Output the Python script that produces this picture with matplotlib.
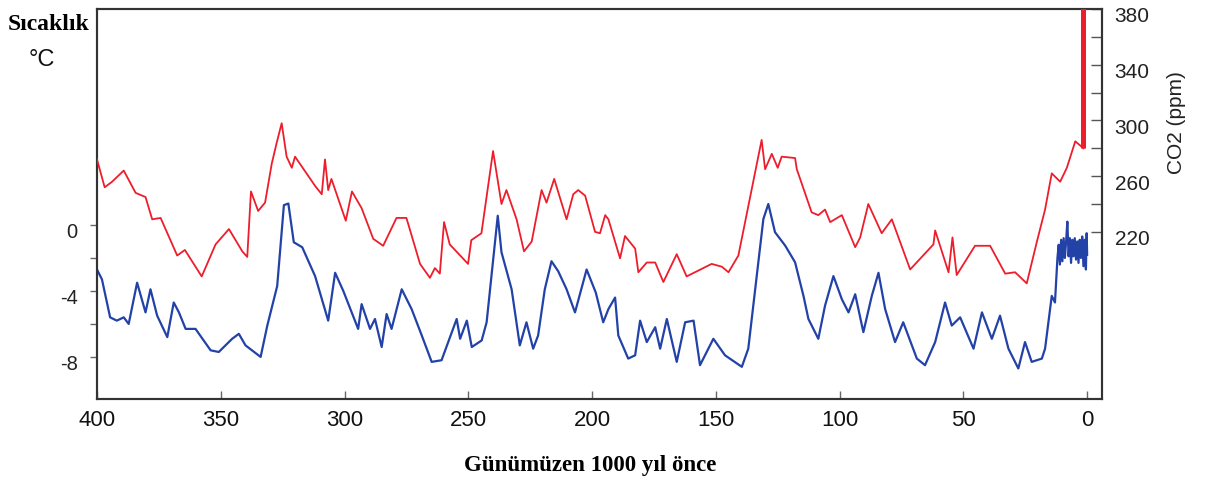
import matplotlib
matplotlib.use("Agg")
import matplotlib.pyplot as plt
import matplotlib.transforms as mtransforms

plt.rcParams['font.family'] = ['Liberation Sans', 'DejaVu Sans']

# ---- data (age in thousand years before present) ----
co2_age = [400, 396.9, 393.9, 389.2, 384.4, 380.4, 377.7, 374.3, 367.6, 364.5,
           357.7, 352.1, 346.7, 341.3, 339.3, 337.8, 334.9, 332.1, 329.4, 327.4,
           325.4, 323.4, 321.3, 320, 311.9, 309.2, 307.9, 306.6, 305.3, 299.5,
           297, 293.1, 288.4, 284.4, 279, 275, 269.5, 265.5, 263.5, 261.5,
           259.8, 257.5, 250.1, 248.8, 244.7, 240, 236.6, 234.6, 230.5, 227.5,
           224.4, 220.4, 218.4, 215.3, 210.3, 207.6, 205.6, 202.8, 198.8, 196.8,
           194.7, 193.4, 188.7, 186.7, 182.6, 181.3, 177.9, 174.5, 171.2, 165.8,
           161.8, 151.7, 147.6, 144.9, 140.9, 131.5, 130.1, 127.4, 125, 123.4,
           118, 117.3, 111.3, 108.6, 105.9, 103.8, 99.1, 93.7, 91.7, 88.4,
           83, 78.9, 71.5, 62.1, 61.4, 56, 54.4, 52.7, 45.3, 39.2,
           33.1, 29.1, 24.4, 20.3, 17, 14.3, 10.9, 8.2, 4.8, 1.5]
co2_ppm = [272, 252, 256, 264, 248, 245, 229, 230, 203, 207,
           188, 211, 222, 206, 202, 249, 235, 241, 269, 284,
           298, 274, 266, 274, 253, 247, 272, 250, 258, 228,
           249, 237, 215, 210, 230, 230, 197, 187, 194, 190,
           227, 211, 197, 214, 219, 278, 240, 250, 229, 206,
           213, 250, 241, 258, 229, 247, 250, 246, 220, 219,
           232, 229, 201, 217, 208, 191, 198, 198, 184, 204,
           188, 197, 195, 191, 203, 286, 265, 276, 266, 274,
           273, 265, 234, 232, 236, 227, 232, 209, 216, 240,
           219, 229, 193, 211, 221, 191, 216, 189, 210, 210,
           190, 191, 183, 213, 236, 262, 256, 266, 285, 280]
co2_recent_age = [1.5, 1.5]
co2_recent_ppm = [280, 390]

temp_age = [400, 398, 394.7, 392, 389.2, 387.2, 383.8, 380.4, 378.4, 375.7,
            371.6, 369, 366.9, 364.2, 360.2, 354.1, 350.8, 345.4, 342.7, 340,
            333.9, 331.2, 327.2, 324.5, 322.7, 320.5, 317.1, 311.9, 306.6, 303.8,
            300.5, 297.1, 294.5, 293.1, 289.7, 287.7, 285, 283, 281, 276.9,
            272.9, 268.8, 264.8, 260.8, 254.7, 253.3, 250.6, 248.6, 244.6, 242.6,
            238.1, 236.6, 232.5, 229.2, 226.5, 223.8, 221.8, 219.1, 216.4, 213.7,
            210.3, 206.9, 202.2, 198.5, 195.5, 193.4, 190.7, 189.4, 185.4, 182.6,
            180.6, 177.9, 174.5, 172.5, 169.8, 165.8, 162.4, 159, 156.4, 151,
            146.3, 139.5, 136.9, 134.1, 130.8, 128.8, 126.1, 122, 118, 114.6,
            112.6, 108.6, 105.9, 102.5, 99.1, 96.4, 93.7, 90.4, 87, 84.3,
            81.6, 77.6, 74.3, 68.8, 65.5, 61.4, 57.4, 54.7, 51.3, 45.9,
            42.5, 38.5, 35.2, 31.8, 27.8, 25.1, 22.4, 18.3, 17, 14.3,
            13, 12, 11.5, 11, 10.5, 10, 9.5, 9, 8.5, 8,
            7.5, 7, 6.5, 6, 5.5, 5, 4.5, 4, 3.5, 3,
            2.5, 2, 1.5, 1, 0.5, 0.2, 0]
temp_c = [-2.7, -3.3, -5.6, -5.8, -5.6, -6.0, -3.5, -5.3, -3.9, -5.5,
          -6.8, -4.7, -5.3, -6.3, -6.3, -7.6, -7.7, -6.9, -6.6, -7.3,
          -8.0, -6.1, -3.7, 1.2, 1.3, -1.05, -1.35, -3.1, -5.8, -2.9,
          -4.0, -5.3, -6.3, -4.8, -6.3, -5.7, -7.4, -5.4, -6.3, -3.9,
          -5.1, -6.7, -8.3, -8.2, -5.7, -6.9, -5.8, -7.4, -7.0, -5.9,
          0.56, -1.65, -3.9, -7.3, -5.9, -7.5, -6.7, -3.9, -2.2, -2.8,
          -3.9, -5.3, -2.7, -4.1, -5.9, -5.1, -4.4, -6.7, -8.1, -7.9,
          -5.8, -7.1, -6.2, -7.5, -5.7, -8.3, -5.9, -5.8, -8.5, -6.9,
          -7.9, -8.6, -7.5, -3.9, 0.36, 1.27, -0.44, -1.25, -2.26, -4.3,
          -5.7, -6.9, -4.9, -3.1, -4.5, -5.3, -4.2, -6.5, -4.3, -2.9,
          -5.1, -7.1, -5.9, -8.1, -8.5, -7.1, -4.7, -6.1, -5.6, -7.5,
          -5.3, -6.9, -5.5, -7.5, -8.7, -7.1, -8.3, -8.1, -7.5, -4.3,
          -4.7, -2.0, -1.2, -2.4, -0.9, -2.2, -0.8, -2.0, -1.0, 0.2,
          -1.9, -0.8, -2.3, -0.9, -1.9, -0.8, -2.1, -1.0, -2.3, -0.9,
          -2.0, -0.7, -2.5, -0.9, -2.7, -0.5, -1.8]

x_ticks = [400, 350, 300, 250, 200, 150, 100, 50, 0]
t_ticks = [0, -2, -4, -6, -8]
t_labels = ["0", "", "-4", "", "-8"]
co2_ticks = [220, 240, 260, 280, 300, 320, 340, 360, 380]
co2_labels = ["220", "", "260", "", "300", "", "340", "", "380"]

RED = "#ee1d2b"
BLUE = "#2242a8"
SPINE = "#333333"

fig = plt.figure(figsize=(12.07, 4.85), dpi=100)
ax = fig.add_axes([97/1207, 85/485, (1102-97)/1207, 390/485])
ax2 = ax.twinx()

ax.plot(temp_age, temp_c, color=BLUE, lw=1.6, zorder=3)
ax2.plot(co2_age, co2_ppm, color=RED, lw=1.3, zorder=3)
ax2.plot(co2_recent_age, co2_recent_ppm, color=RED, lw=3.6, solid_capstyle="butt", zorder=3)

ax.set_xlim(400, -6)
ax.set_ylim(-10.55, 13.09)
ax2.set_ylim(100, 380)

for a in (ax, ax2):
    for s in a.spines.values():
        s.set_color(SPINE)
        s.set_linewidth(1.5)

ax.set_xticks(x_ticks)
ax.set_xticklabels([str(v) for v in x_ticks], fontsize=16, color="#111111")
ax.tick_params(axis="x", direction="in", length=6, width=1, color="#666666", pad=7)

ax.set_yticks(t_ticks)
ax.set_yticklabels(t_labels, fontsize=14.5, color="#222222")
ax.tick_params(axis="y", direction="out", length=5, width=1, color="#666666", pad=9)

ax2.set_yticks(co2_ticks)
ax2.set_yticklabels(co2_labels, fontsize=15, color="#222222")
ax2.tick_params(axis="y", direction="in", length=8, width=1, color="#555555", pad=9)

off = mtransforms.ScaledTranslation(0, -5/100, fig.dpi_scale_trans)
for lab in ax.get_yticklabels() + ax2.get_yticklabels():
    lab.set_transform(lab.get_transform() + off)

fig.text(1177/1207, 1 - 123/485, "CO2 (ppm)", rotation=90, ha="center", va="center",
         fontsize=15, color="#222222")
fig.text(8/1207, 1 - 24/485, "Sıcaklık", ha="left", va="center",
         fontsize=17, fontweight="bold", family="Liberation Serif", color="#000000")
fig.text(42/1207, 1 - 60/485, "°C", ha="center", va="center",
         fontsize=17, color="#111111")
fig.text(590/1207, 1 - 466/485, "Günümüzen 1000 yıl önce", ha="center", va="center",
         fontsize=16.5, fontweight="bold", family="Liberation Serif", color="#000000")

fig.savefig("out.png", dpi=100)
